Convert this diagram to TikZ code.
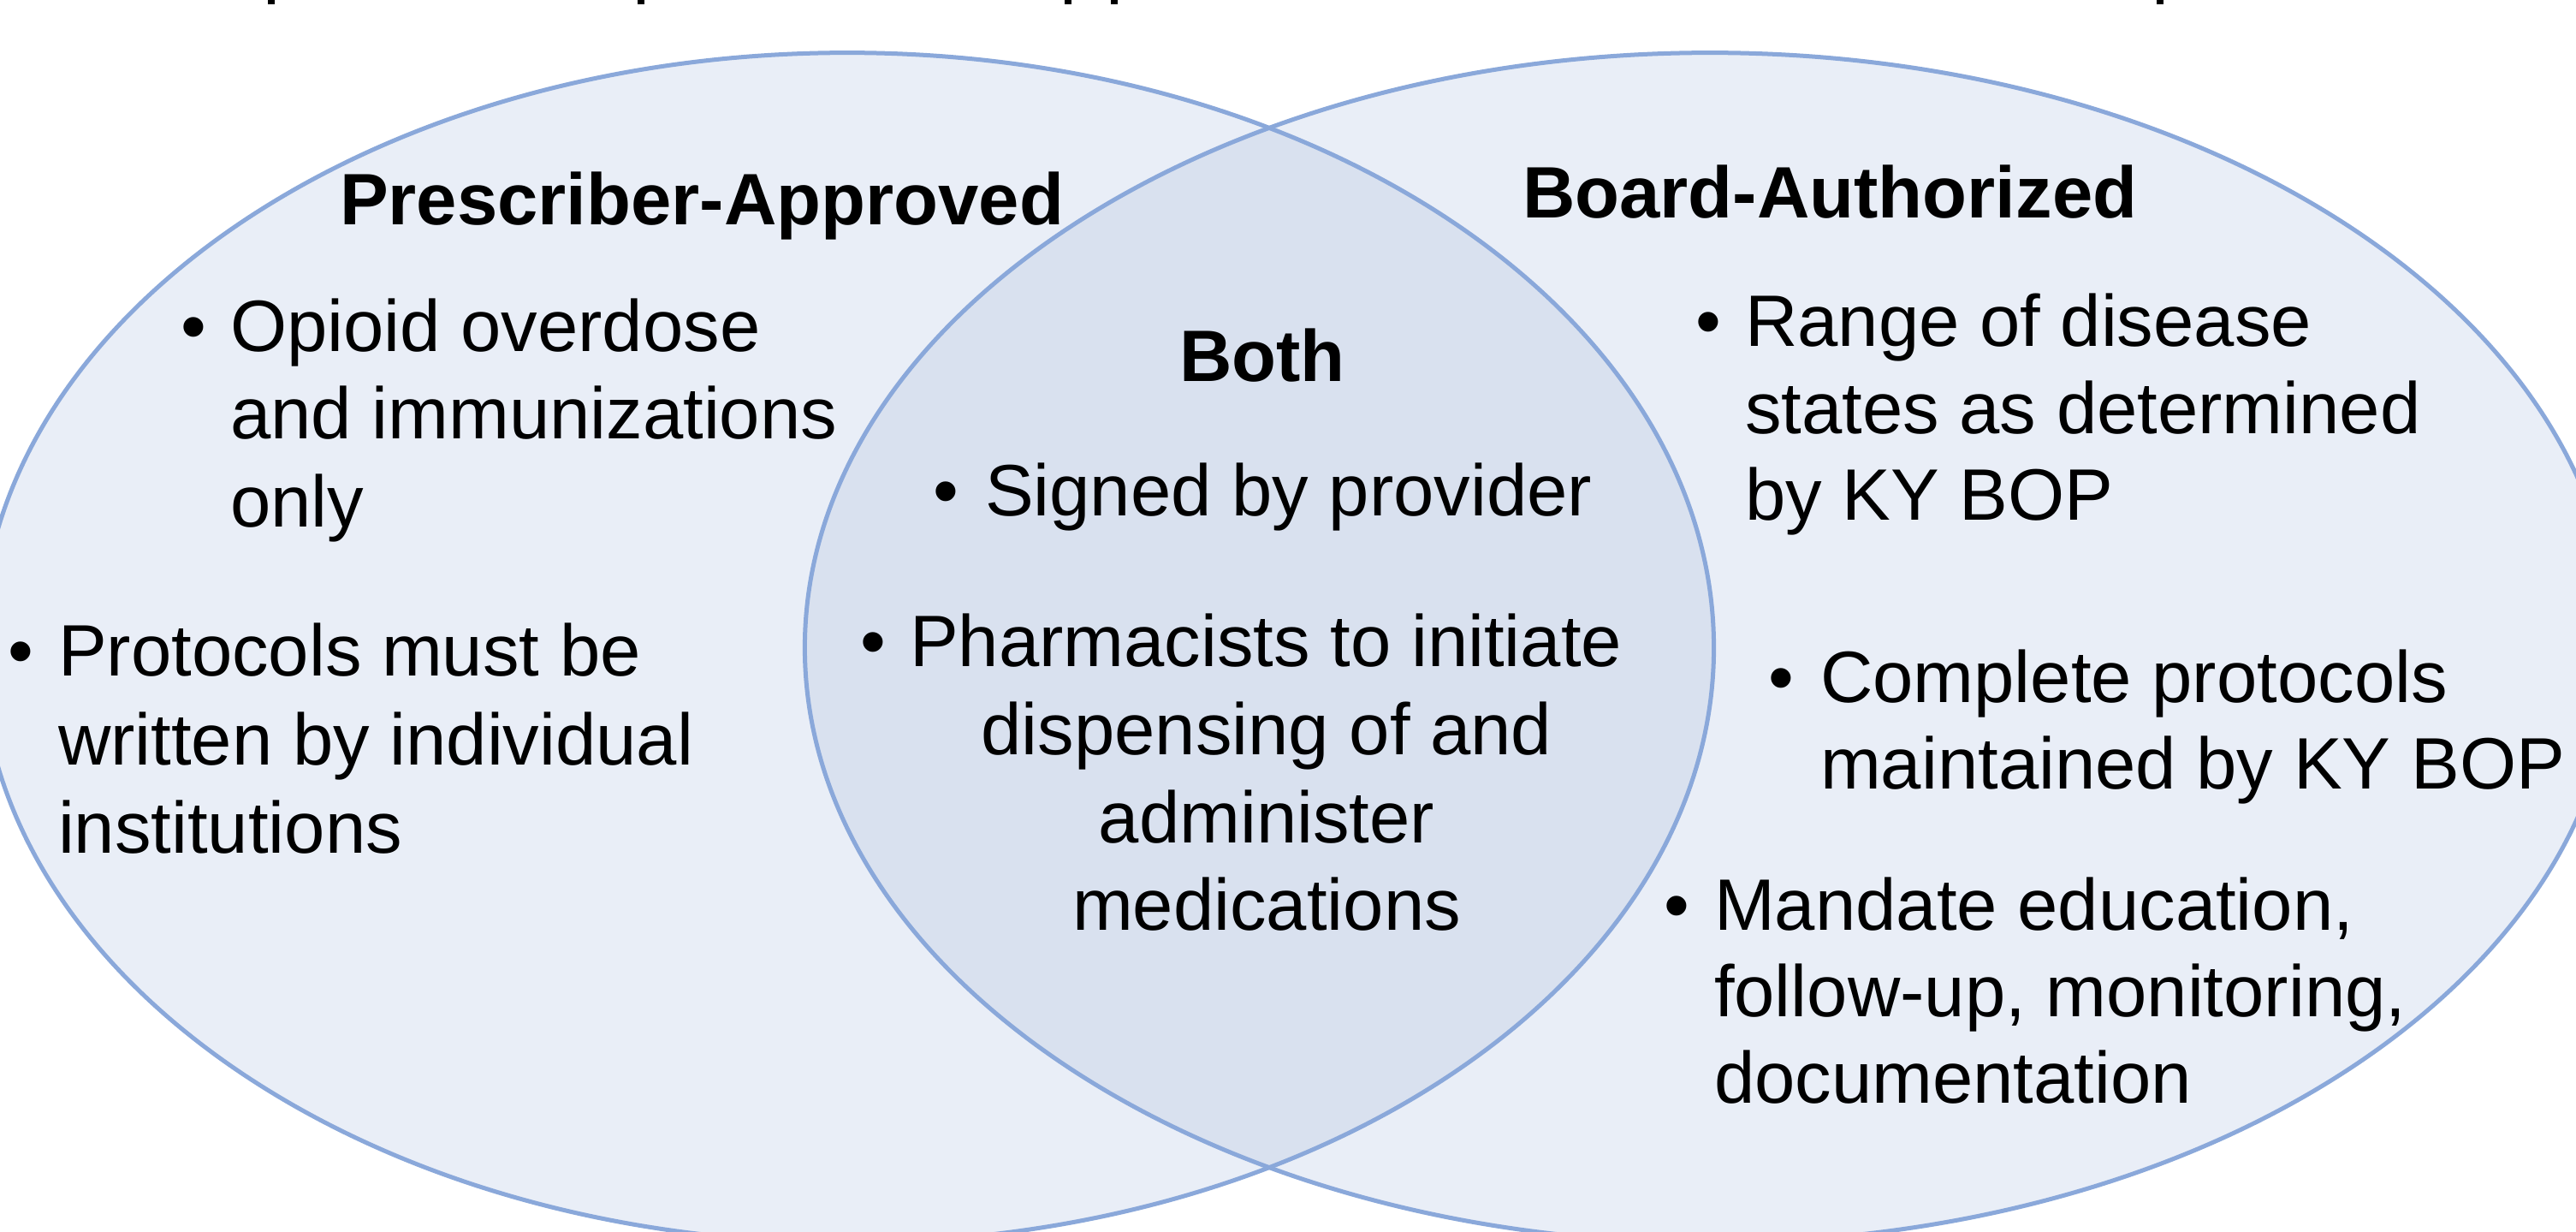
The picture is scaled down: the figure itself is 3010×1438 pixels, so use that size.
\documentclass[tikz,border=0pt]{standalone}
\usepackage{fontspec}
\setmainfont{Liberation Sans}
\definecolor{vennfill}{RGB}{233,238,247}
\definecolor{vennmid}{RGB}{217,225,239}
\definecolor{vennline}{RGB}{138,168,218}
\begin{document}
\begin{tikzpicture}[x=0.01cm,y=-0.01cm,
  txt/.style={inner sep=0pt, outer sep=0pt, font=\fontsize{24.19}{29.2}\selectfont, anchor=base west},
  ctxt/.style={txt, anchor=base},
  blt/.style={txt, anchor=base},
  head/.style={txt, font=\fontsize{24.19}{29.2}\selectfont\bfseries},
  ring/.style={draw=vennline, line width=0.05cm},
  lshape/.style={x radius=10.12cm, y radius=6.945cm},
  rshape/.style={x radius=10.57cm, y radius=6.945cm},
  tick/.style={fill=black}]
\useasboundingbox (0,0) rectangle (3010,1438);
\clip (0,0) rectangle (3010,1438);
\fill[white] (0,0) rectangle (3010,1438);
% tails of a title cut off at the top edge
\foreach \tx in {317,749,1248,1302,2524}
  \fill[tick] (\tx-4,0) rectangle (\tx+4,5);
% circles
\coordinate (cl) at (990,756.5);
\coordinate (cr) at (1998,756.5);
\fill[vennfill] (cl) ellipse [lshape];
\fill[vennfill] (cr) ellipse [rshape];
\begin{scope}
  \clip (cl) ellipse [lshape];
  \fill[vennmid] (cr) ellipse [rshape];
\end{scope}
\draw[ring] (cl) ellipse [lshape];
\draw[ring] (cr) ellipse [rshape];
% headings
\node[head] (hPA) at (397,262) {Prescriber-Approved};
\node[head] (hBA) at (1779,254) {Board-Authorized};
\node[head] (hBo) at (1378,445) {Both};
% left
\node[blt] (bL1) at (226,410) {•};
\node[txt] (L1a) at (269,410) {Opioid overdose};
\node[txt] (L1b) at (269,512) {and immunizations};
\node[txt] (L1c) at (269,615) {only};
\node[blt] (bL2) at (24,789) {•};
\node[txt] (L2a) at (68,789) {Protocols must be};
\node[txt] (L2b) at (68,893) {written by individual};
\node[txt] (L2c) at (68,996) {institutions};
% middle
\node[blt] (bM1) at (1105,602) {•};
\node[txt] (M1a) at (1151,602) {Signed by provider};
\node[blt] (bM2) at (1020,778) {•};
\node[txt] (M2a) at (1063,778) {Pharmacists to initiate};
\node[ctxt] (M2b) at (1480,881) {dispensing of and};
\node[ctxt] (M2c) at (1480,984) {administer};
\node[ctxt] (M2d) at (1480,1086) {medications};
% right
\node[blt] (bR1) at (1996,404) {•};
\node[txt] (R1a) at (2039,404) {Range of disease};
\node[txt] (R1b) at (2039,506) {states as determined};
\node[txt] (R1c) at (2039,607) {by KY BOP};
\node[blt] (bR2) at (2081,820) {•};
\node[txt] (R2a) at (2127,820) {Complete protocols};
\node[txt] (R2b) at (2127,921) {maintained by KY BOP};
\node[blt] (bR3) at (1959,1086) {•};
\node[txt] (R3a) at (2003,1086) {Mandate education,};
\node[txt] (R3b) at (2003,1187) {follow-up, monitoring,};
\node[txt] (R3c) at (2003,1288) {documentation};
\end{tikzpicture}
\end{document}
